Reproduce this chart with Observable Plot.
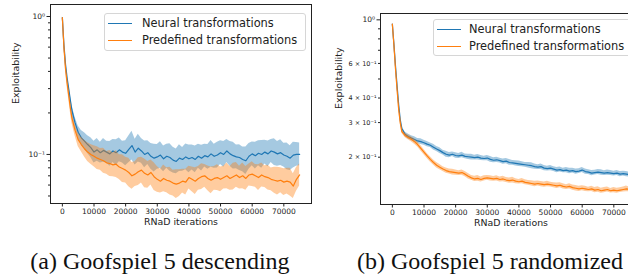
<!DOCTYPE html>
<html><head><meta charset="utf-8">
<script src="https://cdn.jsdelivr.net/npm/d3@7"></script>
<script src="https://cdn.jsdelivr.net/npm/@observablehq/plot@0.6"></script>
<style>
body{margin:0;background:#fff}
#root{position:relative;width:628px;height:274px;overflow:hidden;font-family:"DejaVu Sans";background:#fff}
.p{position:absolute;top:0}
.leg{position:absolute;background:rgba(255,255,255,0.8);border:1px solid #d6d6d6;border-radius:3px;font-size:11.4px;color:#222;box-sizing:border-box}
.row{position:absolute;white-space:nowrap;line-height:1}
.sw{position:absolute;height:0;border-top:1.6px solid}
.cap{position:absolute;font-family:"Liberation Serif";font-size:24px;line-height:1;white-space:nowrap;transform:translateX(-50%);color:#111}
</style>
</head><body>
<div id="root"></div>
<script>
const BLUE = "#1f77b4", ORANGE = "#ff7f0e";
const seriesNames = ["Neural transformations", "Predefined transformations"];
const captions = ["(a) Goofspiel 5 descending", "(b) Goofspiel 5 randomized"];
const xLabel = "RNaD iterations", yLabel = "Exploitability";
const xTicks = [0, 10000, 20000, 30000, 40000, 50000, 60000, 70000];

const iters = [0,500,1000,1500,2000,2500,3000,
  4000,5000,6000,7000,8000,9000,10000,
  11000,12000,13000,14000,15000,16000,17000,18000,19000,20000,
  21000,22000,23000,24000,25000,26000,27000,28000,29000,30000,
  31000,32000,33000,34000,35000,36000,37000,38000,39000,40000,
  41000,42000,43000,44000,45000,46000,47000,48000,49000,50000,
  51000,52000,53000,54000,55000,56000,57000,58000,59000,60000,
  61000,62000,63000,64000,65000,66000,67000,68000,69000,70000,
  71000,72000,73000,74000,75000];

// (a) Goofspiel 5 descending
const aNeural = [0.98,0.62,0.45,0.36,0.30,0.25,0.21,
  0.17,0.145,0.132,0.125,0.118,0.112,0.104,
  0.108,0.103,0.107,0.104,0.101,0.106,0.103,0.108,0.104,0.102,
  0.109,0.116,0.104,0.111,0.106,0.100,0.103,0.097,0.094,0.096,
  0.099,0.093,0.097,0.095,0.091,0.089,0.094,0.092,0.096,0.093,
  0.095,0.092,0.097,0.094,0.098,0.096,0.101,0.097,0.099,0.103,
  0.100,0.106,0.101,0.098,0.096,0.095,0.092,0.090,0.097,0.101,
  0.098,0.102,0.100,0.104,0.101,0.106,0.104,0.101,0.103,0.099,
  0.097,0.094,0.099,0.100,0.100];
const aNeuralErr = [0.02,0.04,0.05,0.06,0.07,0.08,0.09,
  0.10,0.11,0.13,0.15,0.16,0.18,0.20,
  0.21,0.19,0.22,0.20,0.23,0.21,0.24,0.22,0.20,0.23,
  0.25,0.27,0.24,0.26,0.23,0.25,0.22,0.24,0.26,0.23,
  0.25,0.24,0.22,0.26,0.24,0.23,0.25,0.22,0.24,0.26,
  0.23,0.25,0.22,0.24,0.21,0.23,0.25,0.22,0.24,0.22,
  0.24,0.21,0.23,0.25,0.22,0.24,0.23,0.26,0.24,0.22,
  0.25,0.23,0.26,0.22,0.24,0.21,0.25,0.23,0.24,0.22,
  0.25,0.23,0.24,0.22,0.21];
const aPredef = [0.98,0.60,0.42,0.33,0.27,0.22,0.185,
  0.15,0.128,0.118,0.110,0.104,0.100,0.097,
  0.094,0.092,0.090,0.087,0.086,0.084,0.085,0.081,0.079,0.077,
  0.074,0.070,0.072,0.075,0.077,0.073,0.071,0.074,0.069,0.066,
  0.064,0.067,0.065,0.064,0.062,0.061,0.062,0.064,0.063,0.068,
  0.066,0.064,0.067,0.069,0.070,0.067,0.065,0.067,0.068,0.066,
  0.068,0.070,0.067,0.069,0.071,0.068,0.070,0.067,0.071,0.072,
  0.070,0.068,0.071,0.069,0.068,0.066,0.065,0.064,0.065,0.063,
  0.064,0.063,0.059,0.066,0.071];
const aPredefErr = [0.02,0.04,0.05,0.06,0.07,0.08,0.09,
  0.10,0.12,0.13,0.15,0.17,0.18,0.19,
  0.21,0.20,0.23,0.21,0.24,0.22,0.25,0.23,0.26,0.24,
  0.27,0.25,0.23,0.26,0.24,0.27,0.25,0.23,0.26,0.24,
  0.22,0.25,0.23,0.26,0.24,0.27,0.25,0.22,0.24,0.21,
  0.23,0.25,0.22,0.24,0.21,0.23,0.25,0.22,0.24,0.23,
  0.21,0.24,0.22,0.25,0.23,0.21,0.24,0.22,0.20,0.23,
  0.21,0.24,0.22,0.20,0.23,0.21,0.24,0.26,0.23,0.25,
  0.24,0.26,0.23,0.22,0.20];

// (b) Goofspiel 5 randomized
const bNeural = [0.95,0.75,0.58,0.46,0.37,0.31,0.28,
  0.262,0.255,0.250,0.246,0.242,0.240,0.237,
  0.233,0.230,0.225,0.220,0.216,0.211,0.207,0.205,0.207,0.204,
  0.203,0.205,0.202,0.201,0.200,0.199,0.200,0.198,0.197,0.198,
  0.195,0.193,0.194,0.192,0.190,0.191,0.188,0.187,0.186,0.185,
  0.184,0.183,0.182,0.181,0.179,0.178,0.179,0.176,0.175,0.176,
  0.174,0.172,0.173,0.171,0.172,0.170,0.171,0.169,0.170,0.172,
  0.169,0.168,0.166,0.167,0.168,0.167,0.166,0.167,0.166,0.165,
  0.166,0.164,0.165,0.164,0.163];
const bNeuralErr = [0.01,0.01,0.015,0.015,0.02,0.02,0.02,
  0.025,0.03,0.028,0.032,0.03,0.034,0.03,
  0.032,0.028,0.034,0.03,0.033,0.029,0.035,0.031,0.028,0.032,
  0.03,0.033,0.028,0.031,0.034,0.029,0.032,0.03,0.027,0.031,
  0.033,0.029,0.031,0.028,0.032,0.03,0.034,0.029,0.031,0.033,
  0.03,0.028,0.032,0.035,0.031,0.029,0.033,0.03,0.028,0.031,
  0.029,0.032,0.03,0.027,0.031,0.033,0.029,0.031,0.028,0.03,
  0.032,0.029,0.031,0.028,0.03,0.033,0.029,0.031,0.03,0.028,
  0.03,0.032,0.029,0.031,0.03];
const bPredef = [0.95,0.74,0.56,0.44,0.35,0.30,0.27,
  0.258,0.252,0.247,0.240,0.232,0.222,0.212,
  0.203,0.195,0.188,0.182,0.178,0.174,0.171,0.169,0.168,0.167,
  0.166,0.167,0.164,0.160,0.157,0.155,0.156,0.154,0.156,0.157,
  0.156,0.155,0.156,0.154,0.155,0.153,0.152,0.153,0.151,0.150,
  0.151,0.149,0.148,0.147,0.146,0.147,0.146,0.145,0.146,0.145,
  0.144,0.143,0.144,0.142,0.141,0.142,0.140,0.139,0.138,0.139,
  0.138,0.137,0.138,0.136,0.137,0.135,0.136,0.137,0.135,0.136,
  0.135,0.136,0.137,0.138,0.137];
const bPredefErr = [0.01,0.01,0.015,0.015,0.02,0.02,0.02,
  0.025,0.028,0.03,0.032,0.029,0.033,0.031,
  0.03,0.032,0.029,0.033,0.031,0.028,0.032,0.03,0.034,0.031,
  0.029,0.032,0.03,0.033,0.028,0.031,0.034,0.03,0.032,0.029,
  0.031,0.028,0.032,0.03,0.033,0.029,0.031,0.034,0.03,0.028,
  0.032,0.03,0.028,0.031,0.033,0.029,0.031,0.03,0.032,0.028,
  0.03,0.033,0.029,0.031,0.028,0.032,0.03,0.034,0.031,0.029,
  0.031,0.028,0.032,0.03,0.033,0.029,0.031,0.03,0.028,0.032,
  0.03,0.029,0.031,0.033,0.03];

const aMajorTicks = [1, 0.1], aMajorLabels = ["10⁰", "10⁻¹"];
const aMinorTicks = [0.05,0.06,0.07,0.08,0.09,0.2,0.3,0.4,0.5,0.6,0.7,0.8,0.9];
const bMajorTicks = [1], bMajorLabels = ["10⁰"];
const bMinorTicks = [0.2,0.3,0.4,0.5,0.6,0.7,0.8,0.9];
const bMinorLabels = ["2 × 10⁻¹","3 × 10⁻¹","4 × 10⁻¹","","6 × 10⁻¹","","",""];

function panel(o) {
  const rows = iters.map((x, i) => ({
    x,
    nv: o.neural[i], nlo: o.neural[i] / (1 + o.nErr[i]), nhi: o.neural[i] * (1 + o.nErr[i]),
    pv: o.predef[i], plo: o.predef[i] / (1 + o.pErr[i]), phi: o.predef[i] * (1 + o.pErr[i])
  }));
  const fmt = (ticks, labels) => d => { const k = ticks.indexOf(d); return k >= 0 ? labels[k] : ""; };
  return Plot.plot({
    width: o.width, height: 232,
    marginLeft: o.ml, marginRight: o.mr, marginTop: o.mt, marginBottom: 232 - o.bottom,
    style: {fontFamily: "DejaVu Sans", fontSize: "7.5px", background: "transparent", maxWidth: "none", overflow: "visible", color: "#222"},
    x: {domain: [-3750, 78750]},
    y: {type: "log", domain: o.yDomain},
    marks: [
      Plot.areaY(rows, {x: "x", y1: "nlo", y2: "nhi", fill: BLUE, fillOpacity: 0.4, clip: true}),
      Plot.lineY(rows, {x: "x", y: "nv", stroke: BLUE, strokeWidth: 1.2, clip: true}),
      Plot.areaY(rows, {x: "x", y1: "plo", y2: "phi", fill: ORANGE, fillOpacity: 0.4, clip: true}),
      Plot.lineY(rows, {x: "x", y: "pv", stroke: ORANGE, strokeWidth: 1.2, clip: true}),
      Plot.axisX({ticks: xTicks, tickFormat: d => String(d), tickSize: 3.5, tickPadding: 2, label: null, fontSize: 7.5}),
      Plot.axisY({ticks: o.minorTicks, tickFormat: fmt(o.minorTicks, o.minorLabels), tickSize: 2, tickPadding: 2, label: null, fontSize: 6.5}),
      Plot.axisY({ticks: o.majorTicks, tickFormat: fmt(o.majorTicks, o.majorLabels), tickSize: 3.5, tickPadding: 2, label: null, fontSize: 7.5}),
      Plot.frame({stroke: "#222", strokeWidth: 1}),
      Plot.text([xLabel], {text: d => d, frameAnchor: "bottom", dy: 21, fontSize: 9.4}),
      Plot.text([yLabel], {text: d => d, frameAnchor: "left", dx: o.ylabDx, rotate: -90, fontSize: 9.5})
    ]
  });
}

const root = document.getElementById("root");
function place(el, left) { el.classList.add("p"); el.style.left = left + "px"; root.appendChild(el); }

place(panel({width: 320, ml: 50, mr: 9, mt: 4, bottom: 203, yDomain: [0.0441, 1.222],
  neural: aNeural, nErr: aNeuralErr, predef: aPredef, pErr: aPredefErr,
  majorTicks: aMajorTicks, majorLabels: aMajorLabels, minorTicks: aMinorTicks, minorLabels: aMinorTicks.map(() => ""),
  ylabDx: -35}), 0);
place(panel({width: 330, ml: 60, mr: 9, mt: 13, bottom: 204, yDomain: [0.1149, 1.077],
  neural: bNeural, nErr: bNeuralErr, predef: bPredef, pErr: bPredefErr,
  majorTicks: bMajorTicks, majorLabels: bMajorLabels, minorTicks: bMinorTicks, minorLabels: bMinorLabels,
  ylabDx: -42}), 320);

function legend(left, top, width, height, textLeft) {
  const box = document.createElement("div");
  box.className = "leg";
  Object.assign(box.style, {left: left + "px", top: top + "px", width: width + "px", height: height + "px"});
  [BLUE, ORANGE].forEach((c, i) => {
    const cy = 10 + i * 17;
    const sw = document.createElement("div");
    sw.className = "sw";
    Object.assign(sw.style, {left: "3px", width: "24px", top: (cy - 1) + "px", borderTopColor: c});
    const t = document.createElement("div");
    t.className = "row";
    t.textContent = seriesNames[i];
    Object.assign(t.style, {left: textLeft + "px", top: (cy - 6.5) + "px"});
    box.appendChild(sw); box.appendChild(t);
  });
  root.appendChild(box);
}
legend(104, 13, 202, 38, 37);
legend(433, 19, 250, 37, 35);

captions.forEach((c, i) => {
  const d = document.createElement("div");
  d.className = "cap";
  d.textContent = c;
  Object.assign(d.style, {left: (i === 0 ? 160 : 490) + "px", top: "249px"});
  root.appendChild(d);
});
</script>
</body></html>
